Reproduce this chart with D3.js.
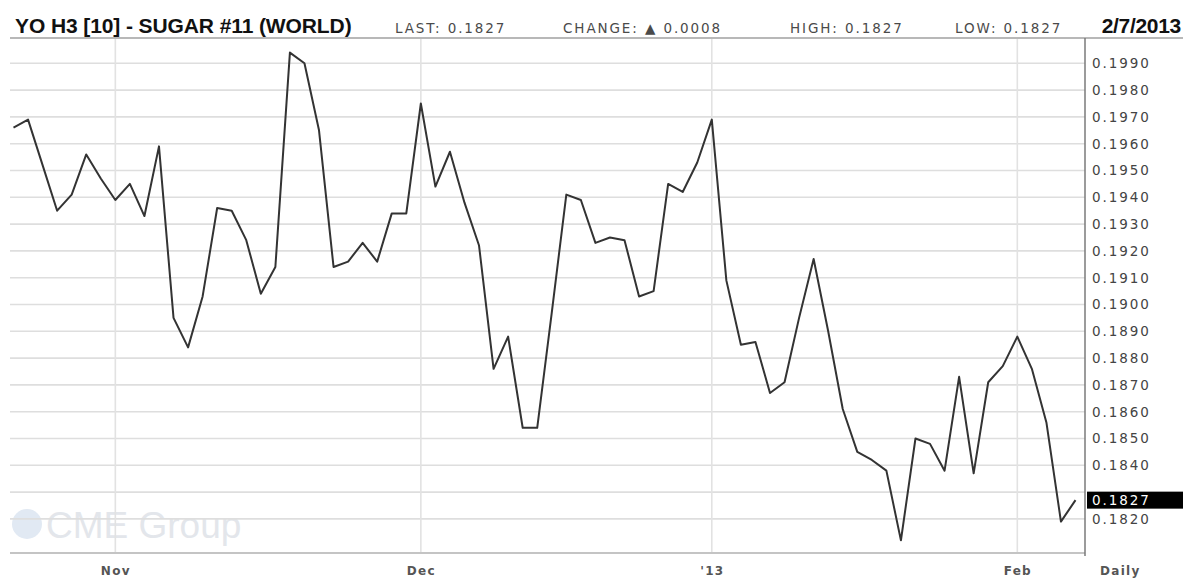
<!DOCTYPE html>
<html>
<head>
<meta charset="utf-8">
<script src="https://cdn.jsdelivr.net/npm/d3@7"></script>
<style>
  html, body { margin: 0; padding: 0; background: #fff; }
  svg { display: block; }
</style>
</head>
<body>
<svg id="chart" width="1183" height="579"></svg>
<script>
// ---- data ----
const dates = [
  "2012-10-19","2012-10-22","2012-10-23","2012-10-24","2012-10-25","2012-10-26","2012-10-31",
  "2012-11-01","2012-11-02","2012-11-05","2012-11-06","2012-11-07","2012-11-08","2012-11-09",
  "2012-11-12","2012-11-13","2012-11-14","2012-11-15","2012-11-16","2012-11-19","2012-11-20",
  "2012-11-21","2012-11-23","2012-11-26","2012-11-27","2012-11-28","2012-11-29","2012-11-30",
  "2012-12-03","2012-12-04","2012-12-05","2012-12-06","2012-12-07","2012-12-10","2012-12-11",
  "2012-12-12","2012-12-13","2012-12-14","2012-12-17","2012-12-18","2012-12-19","2012-12-20",
  "2012-12-21","2012-12-24","2012-12-26","2012-12-27","2012-12-28","2012-12-31",
  "2013-01-02","2013-01-03","2013-01-04","2013-01-07","2013-01-08","2013-01-09","2013-01-10",
  "2013-01-11","2013-01-14","2013-01-15","2013-01-16","2013-01-17","2013-01-18","2013-01-22",
  "2013-01-23","2013-01-24","2013-01-25","2013-01-28","2013-01-29","2013-01-30","2013-01-31",
  "2013-02-01","2013-02-04","2013-02-05","2013-02-06","2013-02-07"
];
const prices = [
  0.1966, 0.1969, 0.1952, 0.1935, 0.1941, 0.1956, 0.1947,
  0.1939, 0.1945, 0.1933, 0.1959, 0.1895, 0.1884, 0.1903,
  0.1936, 0.1935, 0.1924, 0.1904, 0.1914, 0.1994, 0.1990,
  0.1965, 0.1914, 0.1916, 0.1923, 0.1916, 0.1934, 0.1934,
  0.1975, 0.1944, 0.1957, 0.1938, 0.1922, 0.1876, 0.1888,
  0.1854, 0.1854, 0.1897, 0.1941, 0.1939, 0.1923, 0.1925,
  0.1924, 0.1903, 0.1905, 0.1945, 0.1942, 0.1953,
  0.1969, 0.1909, 0.1885, 0.1886, 0.1867, 0.1871, 0.1895,
  0.1917, 0.1890, 0.1861, 0.1845, 0.1842, 0.1838, 0.1812,
  0.1850, 0.1848, 0.1838, 0.1873, 0.1837, 0.1871, 0.1877,
  0.1888, 0.1876, 0.1856, 0.1819, 0.1827
];
const gridTicks = [0.1820,0.1830,0.1840,0.1850,0.1860,0.1870,0.1880,0.1890,0.1900,
                   0.1910,0.1920,0.1930,0.1940,0.1950,0.1960,0.1970,0.1980,0.1990];
// 0.1830 label is hidden behind the last-value box in the original
const yLabelTicks = [0.1820,0.1840,0.1850,0.1860,0.1870,0.1880,0.1890,0.1900,
                     0.1910,0.1920,0.1930,0.1940,0.1950,0.1960,0.1970,0.1980,0.1990];
const monthTickDates = ["2012-11-01","2012-12-03","2013-01-02","2013-02-01"];
const monthTickLabels = ["Nov","Dec","'13","Feb"];
const headerTitle = "YO H3 [10] - SUGAR #11 (WORLD)";
const headerStats = ["LAST: 0.1827", "CHANGE: \u25B2 0.0008", "HIGH: 0.1827", "LOW: 0.1827"];
const headerDate = "2/7/2013";
const lastValue = 0.1827;

// ---- layout ----
const svg = d3.select("#chart");
const plotLeft = 10, plotRight = 1085, plotTop = 38, plotBottom = 553;

const x = d3.scalePoint().domain(dates).range([13.5, 1075.5]);
const y = d3.scaleLinear().domain([0.1820, 0.1990]).range([518.9, 63.3]);

svg.append("rect").attr("width", 1183).attr("height", 579).attr("fill", "#fff");

// watermark
const wm = svg.append("g");
wm.append("circle").attr("cx", 27).attr("cy", 524).attr("r", 15).attr("fill", "#e1e9f3");
wm.append("text").attr("x", 46).attr("y", 538)
  .attr("font-family", "Liberation Sans, Arial, sans-serif")
  .attr("font-size", 37).attr("fill", "#e3e6eb").text("CME Group");

// horizontal grid
svg.append("g")
  .selectAll("line").data(gridTicks).join("line")
  .attr("x1", plotLeft).attr("x2", plotRight)
  .attr("y1", d => y(d)).attr("y2", d => y(d))
  .attr("stroke", "#dedede").attr("stroke-width", 1.6);

// vertical grid
svg.append("g")
  .selectAll("line").data(monthTickDates).join("line")
  .attr("x1", d => x(d)).attr("x2", d => x(d))
  .attr("y1", plotTop).attr("y2", plotBottom)
  .attr("stroke", "#e2e2e2").attr("stroke-width", 1.6);

// header separator
svg.append("line").attr("x1", plotLeft).attr("x2", 1183)
  .attr("y1", plotTop).attr("y2", plotTop)
  .attr("stroke", "#b8b8b8").attr("stroke-width", 2);

// bottom axis line
svg.append("line").attr("x1", plotLeft).attr("x2", plotRight)
  .attr("y1", plotBottom).attr("y2", plotBottom)
  .attr("stroke", "#c4c4c4").attr("stroke-width", 2);

// right axis line
svg.append("line").attr("x1", plotRight).attr("x2", plotRight)
  .attr("y1", plotTop).attr("y2", plotBottom + 3)
  .attr("stroke", "#7a7a7a").attr("stroke-width", 1.5);

// price line
svg.append("defs").append("clipPath").attr("id", "clip")
  .append("rect").attr("x", plotLeft).attr("y", plotTop)
  .attr("width", plotRight - plotLeft).attr("height", plotBottom - plotTop);
svg.append("path")
  .datum(prices.map((v, i) => [dates[i], v]))
  .attr("clip-path", "url(#clip)")
  .attr("fill", "none").attr("stroke", "#333").attr("stroke-width", 2)
  .attr("stroke-linejoin", "round")
  .attr("d", d3.line().x(d => x(d[0])).y(d => y(d[1])));

// right y axis
const yAxis = d3.axisRight(y).tickValues(yLabelTicks).tickSize(0).tickPadding(7)
  .tickFormat(d3.format(".4f"));
const ya = svg.append("g").attr("transform", `translate(${plotRight},0)`).call(yAxis);
ya.select(".domain").remove();
ya.selectAll("text")
  .attr("font-family", "DejaVu Sans, Verdana, sans-serif")
  .attr("font-size", 13.5).attr("fill", "#444").attr("letter-spacing", 1.9);

// last value box
svg.append("rect").attr("x", plotRight + 2).attr("y", y(lastValue) - 8.5)
  .attr("width", 1183 - plotRight - 2).attr("height", 17).attr("fill", "#000");
svg.append("text").attr("x", plotRight + 7).attr("y", y(lastValue))
  .attr("dy", "0.36em")
  .attr("font-family", "DejaVu Sans, Verdana, sans-serif")
  .attr("font-size", 13.5).attr("fill", "#fff").attr("letter-spacing", 1.9)
  .text(d3.format(".4f")(lastValue));

// bottom x axis labels
const xAxis = d3.axisBottom(x).tickValues(monthTickDates).tickSize(0).tickPadding(13)
  .tickFormat((d, i) => monthTickLabels[i]);
const xa = svg.append("g").attr("transform", `translate(0,${plotBottom})`).call(xAxis);
xa.select(".domain").remove();
xa.selectAll("text")
  .attr("font-family", "DejaVu Sans, Verdana, sans-serif")
  .attr("font-size", 12).attr("font-weight", "bold").attr("fill", "#555")
  .attr("letter-spacing", 1.3);

svg.append("text").attr("x", 1100).attr("y", plotBottom + 13).attr("dy", "0.71em")
  .attr("font-family", "DejaVu Sans, Verdana, sans-serif")
  .attr("font-size", 12).attr("font-weight", "bold").attr("fill", "#555")
  .attr("letter-spacing", 1.3).text("Daily");

// header
svg.append("text").attr("x", 15).attr("y", 33)
  .attr("font-family", "Liberation Sans, Arial, sans-serif")
  .attr("font-size", 21).attr("font-weight", "bold").attr("fill", "#111")
  .attr("letter-spacing", -0.1).text(headerTitle);

const statX = [395, 563, 790, 955];
svg.append("g").selectAll("text").data(headerStats).join("text")
  .attr("x", (d, i) => statX[i]).attr("y", 33)
  .attr("font-family", "DejaVu Sans, Verdana, sans-serif")
  .attr("font-size", 13.5).attr("fill", "#4a4a4a").attr("letter-spacing", 1.9)
  .text(d => d);

svg.append("text").attr("x", 1181).attr("y", 33).attr("text-anchor", "end")
  .attr("font-family", "Liberation Sans, Arial, sans-serif")
  .attr("font-size", 21).attr("font-weight", "bold").attr("fill", "#111")
  .attr("letter-spacing", -0.3).text(headerDate);
</script>
</body>
</html>
